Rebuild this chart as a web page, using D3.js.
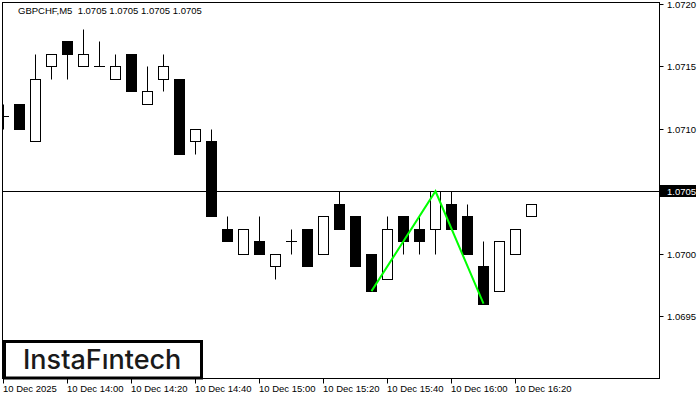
<!DOCTYPE html>
<html>
<head>
<meta charset="utf-8">
<script src="https://cdn.jsdelivr.net/npm/d3@7"></script>
<style>
body { margin: 0; background: #fff; }
text { font-family: "Liberation Sans", Arial, sans-serif; }
</style>
</head>
<body>
<div id="chart"></div>
<script>
// GBPCHF M5 candles, 10 Dec 2025
var times = ["13:40","13:45","13:50","13:55","14:00","14:05","14:10","14:15","14:20","14:25",
             "14:30","14:35","14:40","14:45","14:50","14:55","15:00","15:05","15:10","15:15",
             "15:20","15:25","15:30","15:35","15:40","15:45","15:50","15:55","16:00","16:05",
             "16:10","16:15","16:20","16:25","16:30"];
var opens  = [1.0711,1.0712,1.0709,1.0715,1.0717,1.0715,1.0715,1.0714,1.0716,1.0712,
              1.0714,1.0714,1.0709,1.0709,1.0702,1.0700,1.0701,1.0699,1.0701,1.0702,
              1.0700,1.0704,1.0703,1.0700,1.0698,1.0703,1.0702,1.0702,1.0704,1.0703,
              1.0699,1.0697,1.0700,1.0703,1.0705];
var highs  = [1.0712,1.0712,1.0716,1.0716,1.0717,1.0718,1.0717,1.0716,1.0716,1.0715,
              1.0716,1.0714,1.0710,1.0710,1.0703,1.0702,1.0703,1.0700,1.0702,1.0702,
              1.0703,1.0705,1.0703,1.0700,1.0703,1.0703,1.0703,1.0705,1.0705,1.0704,
              1.0701,1.0701,1.0702,1.0704,1.0705];
var lows   = [1.0710,1.0710,1.0709,1.0714,1.0714,1.0715,1.0715,1.0714,1.0713,1.0712,
              1.0713,1.0708,1.0708,1.0703,1.0701,1.0700,1.0700,1.0698,1.0700,1.0699,
              1.0700,1.0702,1.0699,1.0697,1.0698,1.0700,1.0700,1.0700,1.0702,1.0700,
              1.0696,1.0697,1.0700,1.0703,1.0705];
var closes = [1.0711,1.0710,1.0714,1.0716,1.0716,1.0716,1.0715,1.0715,1.0713,1.0713,
              1.0715,1.0708,1.0710,1.0703,1.0701,1.0702,1.0700,1.0700,1.0701,1.0699,
              1.0703,1.0702,1.0699,1.0697,1.0702,1.0701,1.0701,1.0705,1.0702,1.0700,
              1.0696,1.0701,1.0702,1.0704,1.0705];

var priceTicks = [1.0695, 1.0700, 1.0705, 1.0710, 1.0715, 1.0720];
var timeTicks = ["13:40","14:00","14:20","14:40","15:00","15:20","15:40","16:00","16:20"];
var timeTickLabels = ["10 Dec 2025","10 Dec 14:00","10 Dec 14:20","10 Dec 14:40","10 Dec 15:00",
                      "10 Dec 15:20","10 Dec 15:40","10 Dec 16:00","10 Dec 16:20"];
var patternTimes = ["15:35","15:55","16:10"];
var patternPrices = [1.0697, 1.0705, 1.0696];
var lastPrice = 1.0705;
var title = "GBPCHF,M5\u00a0\u00a01.0705 1.0705 1.0705 1.0705";

var width = 700, height = 400;
var plot = {left: 2.5, top: 2.5, right: 659.5, bottom: 378.5};

var parseTime = d3.timeParse("%Y-%m-%d %H:%M");
function t(s) { return parseTime("2025-12-10 " + s); }

var x = d3.scaleTime()
    .domain([t("13:40"), t("16:40")])
    .range([3.5, 3.5 + 16 * 36]);
var y = d3.scaleLinear()
    .domain([1.0690, 1.0720])
    .range([378.5, 4]);
function py(p) { return Math.round(y(p)) + 0.5; }

var data = times.map(function(d, i) {
  return {time: t(d), o: opens[i], h: highs[i], l: lows[i], c: closes[i]};
});

var svg = d3.select("#chart").append("svg")
    .attr("width", width)
    .attr("height", height);

svg.append("defs").append("clipPath")
    .attr("id", "clip")
  .append("rect")
    .attr("x", 3).attr("y", 3)
    .attr("width", plot.right - 3.5)
    .attr("height", plot.bottom - 3.5);

// current price line
svg.append("line")
    .attr("x1", plot.left).attr("x2", plot.right)
    .attr("y1", py(lastPrice)).attr("y2", py(lastPrice))
    .attr("stroke", "#000");

var candles = svg.append("g").attr("clip-path", "url(#clip)");

var c = candles.selectAll("g.candle")
    .data(data)
    .enter().append("g")
    .attr("class", "candle");

c.append("line")
    .attr("x1", function(d) { return x(d.time); })
    .attr("x2", function(d) { return x(d.time); })
    .attr("y1", function(d) { return py(d.h); })
    .attr("y2", function(d) { return py(d.l); })
    .attr("stroke", "#000");

// bullish: hollow
c.filter(function(d) { return d.c > d.o; }).append("rect")
    .attr("x", function(d) { return x(d.time) - 5; })
    .attr("y", function(d) { return py(d.c); })
    .attr("width", 10)
    .attr("height", function(d) { return py(d.o) - py(d.c); })
    .attr("fill", "#fff")
    .attr("stroke", "#000");

// bearish: filled
c.filter(function(d) { return d.c < d.o; }).append("rect")
    .attr("x", function(d) { return x(d.time) - 5.5; })
    .attr("y", function(d) { return py(d.o) - 0.5; })
    .attr("width", 11)
    .attr("height", function(d) { return py(d.c) - py(d.o) + 1; })
    .attr("fill", "#000");

// doji
c.filter(function(d) { return d.c === d.o; }).append("line")
    .attr("x1", function(d) { return x(d.time) - 5.5; })
    .attr("x2", function(d) { return x(d.time) + 5.5; })
    .attr("y1", function(d) { return py(d.o); })
    .attr("y2", function(d) { return py(d.o); })
    .attr("stroke", "#000");

// pattern lines
var pattern = patternTimes.map(function(d, i) { return [x(t(d)), y(patternPrices[i])]; });
svg.append("path")
    .attr("d", d3.line()(pattern))
    .attr("fill", "none")
    .attr("stroke", "#00ff00")
    .attr("stroke-width", 2);

// frame
svg.append("rect")
    .attr("x", plot.left).attr("y", plot.top)
    .attr("width", plot.right - plot.left)
    .attr("height", plot.bottom - plot.top)
    .attr("fill", "none")
    .attr("stroke", "#000");

// price axis
var yAxis = svg.append("g");
yAxis.selectAll("line")
    .data(priceTicks)
    .enter().append("line")
    .attr("x1", plot.right).attr("x2", plot.right + 4)
    .attr("y1", function(d) { return py(d); })
    .attr("y2", function(d) { return py(d); })
    .attr("stroke", "#000");
yAxis.selectAll("text")
    .data(priceTicks)
    .enter().append("text")
    .attr("x", 667)
    .attr("y", function(d) { return py(d) + 3.5; })
    .attr("font-size", "9.5px")
    .attr("fill", "#000")
    .text(function(d) { return d.toFixed(4); });

svg.append("rect")
    .attr("x", 660).attr("y", py(lastPrice) - 6.5)
    .attr("width", 36).attr("height", 12)
    .attr("fill", "#000");
svg.append("text")
    .attr("x", 667)
    .attr("y", py(lastPrice) + 3.5)
    .attr("font-size", "9.5px")
    .attr("fill", "#fff")
    .text(lastPrice.toFixed(4));

// time axis
var xAxis = svg.append("g");
xAxis.selectAll("line")
    .data(timeTicks)
    .enter().append("line")
    .attr("x1", function(d) { return Math.floor(x(t(d))) + 0.5; })
    .attr("x2", function(d) { return Math.floor(x(t(d))) + 0.5; })
    .attr("y1", plot.bottom).attr("y2", plot.bottom + 5)
    .attr("stroke", "#000");
xAxis.selectAll("text")
    .data(timeTicks)
    .enter().append("text")
    .attr("x", function(d) { return Math.floor(x(t(d))); })
    .attr("y", 392)
    .attr("font-size", "9.5px")
    .attr("fill", "#000")
    .text(function(d, i) { return timeTickLabels[i]; });

// title
svg.append("text")
    .attr("x", 18).attr("y", 14)
    .attr("font-size", "9.5px")
    .attr("fill", "#000")
    .text(title);

// logo
svg.append("rect")
    .attr("x", 4.5).attr("y", 341.5)
    .attr("width", 197).attr("height", 36.5)
    .attr("fill", "#fff")
    .attr("stroke", "#000")
    .attr("stroke-width", 3);
svg.append("text")
    .attr("x", 23).attr("y", 369)
    .attr("font-size", "27px")
    .attr("font-weight", 500)
    .attr("fill", "#1a1a1a")
    .style("font-family", "Inter, sans-serif")
    .text("InstaF\u0131ntech");
</script>
</body>
</html>
